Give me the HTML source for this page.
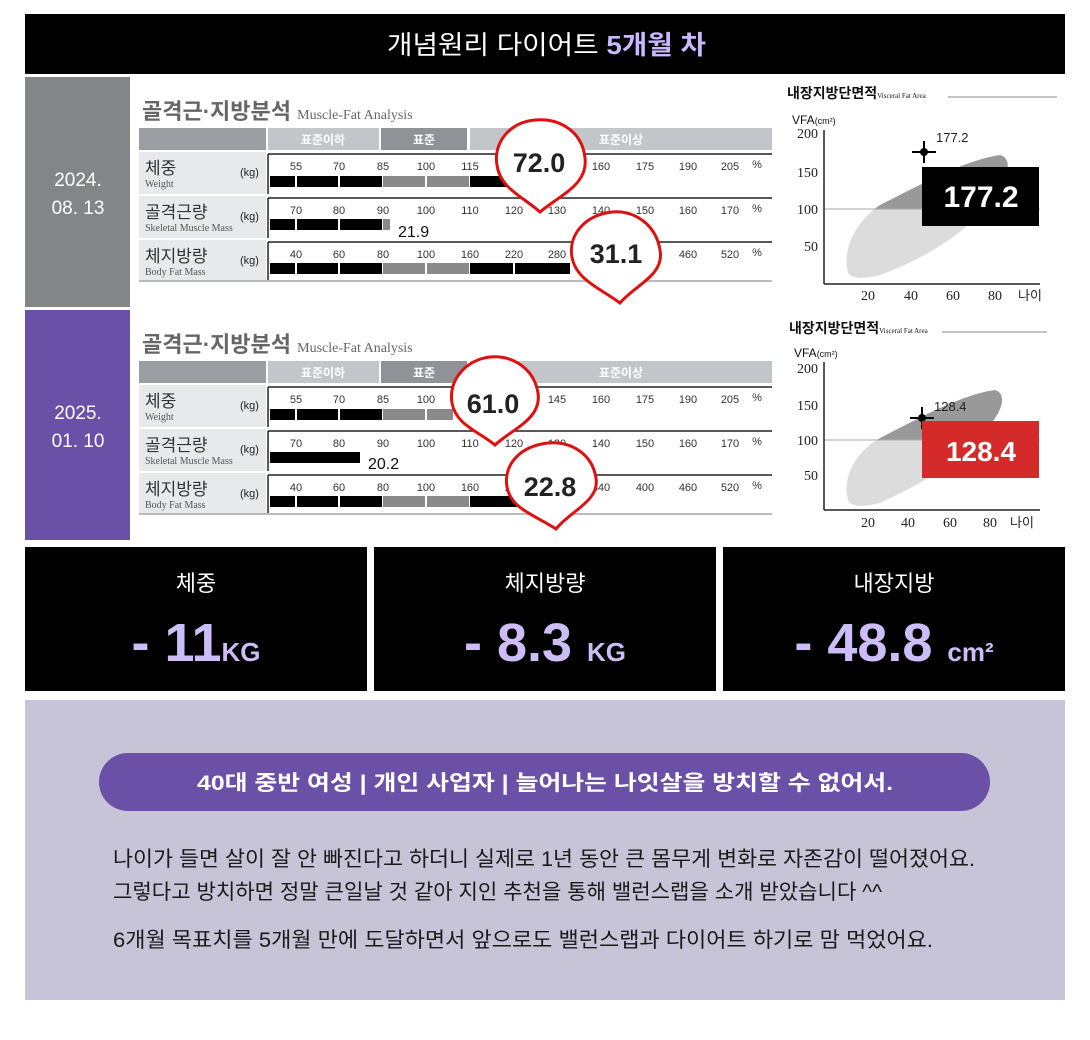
<!DOCTYPE html>
<html><head><meta charset="utf-8"><style>
html,body{margin:0;padding:0;background:#fff}
svg{display:block;font-family:"Liberation Sans","Noto Sans CJK KR",sans-serif}
.s{font-family:"Liberation Serif","Noto Serif CJK SC",serif}
.t{font-size:11px;fill:#333;text-anchor:middle}
</style></head><body>
<svg width="1090" height="1040" viewBox="0 0 1090 1040" xmlns="http://www.w3.org/2000/svg">
<defs>
<clipPath id="up1"><rect x="820" y="100" width="240" height="109"/></clipPath>
<clipPath id="up2"><rect x="820" y="340" width="240" height="100"/></clipPath>
</defs>
<!-- header -->
<rect x="25" y="14" width="1040" height="60" fill="#000"/>
<text x="387" y="54" font-size="26" fill="#fff" textLength="319" lengthAdjust="spacingAndGlyphs">개념원리 다이어트 <tspan fill="#c9b8ff" font-weight="bold">5개월 차</tspan></text>
<!-- date blocks -->
<rect x="25" y="77" width="105" height="230" fill="#848589"/>
<text x="78" y="186" text-anchor="middle" font-size="19" fill="#fff">2024.</text>
<text x="78" y="214" text-anchor="middle" font-size="19" fill="#fff">08. 13</text>
<rect x="25" y="310" width="105" height="230" fill="#6a50a7"/>
<text x="78" y="419" text-anchor="middle" font-size="19" fill="#fff">2025.</text>
<text x="78" y="447" text-anchor="middle" font-size="19" fill="#fff">01. 10</text>

<!-- PANEL 1 -->
<g>
<text x="142" y="119" font-size="22" fill="#666" font-weight="bold">골격근·지방분석 <tspan class="s" font-size="14" font-weight="normal">Muscle-Fat Analysis</tspan></text>
<rect x="139" y="128" width="127" height="22" fill="#9b9ea3"/>
<rect x="268" y="128" width="111" height="22" fill="#c2c6ca"/>
<rect x="381" y="128" width="86" height="22" fill="#8f9398"/>
<rect x="470" y="128" width="302" height="22" fill="#c2c6ca"/>
<text x="323" y="144" font-size="12" fill="#fff" text-anchor="middle" font-weight="bold">표준이하</text>
<text x="424" y="144" font-size="12" fill="#fff" text-anchor="middle" font-weight="bold">표준</text>
<text x="621" y="144" font-size="12" fill="#fff" text-anchor="middle" font-weight="bold">표준이상</text>
<rect x="139" y="152" width="127" height="42" fill="#e8e9ea"/>
<rect x="139" y="196" width="127" height="42" fill="#e8e9ea"/>
<rect x="139" y="240" width="127" height="40" fill="#e8e9ea"/>
<line x1="139" y1="281" x2="772" y2="281" stroke="#bbb" stroke-width="2"/>
<g stroke="#222" stroke-width="1.5">
<line x1="268" y1="154" x2="772" y2="154"/><line x1="268" y1="154" x2="268" y2="194"/>
<line x1="268" y1="198" x2="772" y2="198"/><line x1="268" y1="198" x2="268" y2="238"/>
<line x1="268" y1="242" x2="772" y2="242"/><line x1="268" y1="242" x2="268" y2="280"/>
</g>
<text x="145" y="174" font-size="17" fill="#333">체중</text><text x="145" y="187" class="s" font-size="10" fill="#555">Weight</text><text x="240" y="176" font-size="11" fill="#222">(kg)</text>
<text x="145" y="218" font-size="17" fill="#333">골격근량</text><text x="145" y="231" class="s" font-size="10" fill="#555">Skeletal Muscle Mass</text><text x="240" y="220" font-size="11" fill="#222">(kg)</text>
<text x="145" y="262" font-size="17" fill="#333">체지방량</text><text x="145" y="275" class="s" font-size="10" fill="#555">Body Fat Mass</text><text x="240" y="264" font-size="11" fill="#222">(kg)</text>
<g class="t">
<text x="296" y="170">55</text><text x="339" y="170">70</text><text x="383" y="170">85</text><text x="426" y="170">100</text><text x="470" y="170">115</text><text x="514" y="170">130</text><text x="557" y="170">145</text><text x="601" y="170">160</text><text x="645" y="170">175</text><text x="688" y="170">190</text><text x="730" y="170">205</text><text x="757" y="168">%</text>
<text x="296" y="214">70</text><text x="339" y="214">80</text><text x="383" y="214">90</text><text x="426" y="214">100</text><text x="470" y="214">110</text><text x="514" y="214">120</text><text x="557" y="214">130</text><text x="601" y="214">140</text><text x="645" y="214">150</text><text x="688" y="214">160</text><text x="730" y="214">170</text><text x="757" y="212">%</text>
<text x="296" y="258">40</text><text x="339" y="258">60</text><text x="383" y="258">80</text><text x="426" y="258">100</text><text x="470" y="258">160</text><text x="514" y="258">220</text><text x="557" y="258">280</text><text x="601" y="258">340</text><text x="645" y="258">400</text><text x="688" y="258">460</text><text x="730" y="258">520</text><text x="757" y="256">%</text>
</g>
<rect x="270" y="176" width="112" height="11" fill="#000"/><rect x="383" y="176" width="86" height="11" fill="#8a8a8a"/><rect x="470" y="176" width="70" height="11" fill="#000"/>
<rect x="270" y="219" width="112" height="11" fill="#000"/><rect x="383" y="219" width="7" height="11" fill="#8a8a8a"/>
<text x="398" y="237" font-size="16" fill="#111">21.9</text>
<rect x="270" y="263" width="112" height="11" fill="#000"/><rect x="383" y="263" width="86" height="11" fill="#8a8a8a"/><rect x="470" y="263" width="100" height="11" fill="#000"/>
<g stroke="#fff" stroke-width="2"><line x1="296" y1="175" x2="296" y2="188"/><line x1="339" y1="175" x2="339" y2="188"/><line x1="426" y1="175" x2="426" y2="188"/><line x1="296" y1="218" x2="296" y2="231"/><line x1="339" y1="218" x2="339" y2="231"/><line x1="296" y1="262" x2="296" y2="275"/><line x1="339" y1="262" x2="339" y2="275"/><line x1="426" y1="262" x2="426" y2="275"/><line x1="514" y1="262" x2="514" y2="275"/></g>
<path d="M540,212 C560,195 588,185 585,158 C582,130 558,118 535,120 C508,122 493,145 497,165 C500,188 522,196 540,212 Z" fill="#fff" stroke="#e01010" stroke-width="3"/>
<text x="539" y="172" text-anchor="middle" font-size="27" font-weight="bold" fill="#222">72.0</text>
<path d="M620,303 C635,285 665,275 660,250 C656,225 635,210 612,212 C585,215 568,235 572,257 C576,280 600,288 620,303 Z" fill="#fff" stroke="#e01010" stroke-width="3"/>
<text x="616" y="263" text-anchor="middle" font-size="27" font-weight="bold" fill="#222">31.1</text>
</g>

<!-- PANEL 2 -->
<g transform="translate(0,233)">
<text x="142" y="119" font-size="22" fill="#666" font-weight="bold">골격근·지방분석 <tspan class="s" font-size="14" font-weight="normal">Muscle-Fat Analysis</tspan></text>
<rect x="139" y="128" width="127" height="22" fill="#9b9ea3"/>
<rect x="268" y="128" width="111" height="22" fill="#c2c6ca"/>
<rect x="381" y="128" width="86" height="22" fill="#8f9398"/>
<rect x="470" y="128" width="302" height="22" fill="#c2c6ca"/>
<text x="323" y="144" font-size="12" fill="#fff" text-anchor="middle" font-weight="bold">표준이하</text>
<text x="424" y="144" font-size="12" fill="#fff" text-anchor="middle" font-weight="bold">표준</text>
<text x="621" y="144" font-size="12" fill="#fff" text-anchor="middle" font-weight="bold">표준이상</text>
<rect x="139" y="152" width="127" height="42" fill="#e8e9ea"/>
<rect x="139" y="196" width="127" height="42" fill="#e8e9ea"/>
<rect x="139" y="240" width="127" height="40" fill="#e8e9ea"/>
<line x1="139" y1="281" x2="772" y2="281" stroke="#bbb" stroke-width="2"/>
<g stroke="#222" stroke-width="1.5">
<line x1="268" y1="154" x2="772" y2="154"/><line x1="268" y1="154" x2="268" y2="194"/>
<line x1="268" y1="198" x2="772" y2="198"/><line x1="268" y1="198" x2="268" y2="238"/>
<line x1="268" y1="242" x2="772" y2="242"/><line x1="268" y1="242" x2="268" y2="280"/>
</g>
<text x="145" y="174" font-size="17" fill="#333">체중</text><text x="145" y="187" class="s" font-size="10" fill="#555">Weight</text><text x="240" y="176" font-size="11" fill="#222">(kg)</text>
<text x="145" y="218" font-size="17" fill="#333">골격근량</text><text x="145" y="231" class="s" font-size="10" fill="#555">Skeletal Muscle Mass</text><text x="240" y="220" font-size="11" fill="#222">(kg)</text>
<text x="145" y="262" font-size="17" fill="#333">체지방량</text><text x="145" y="275" class="s" font-size="10" fill="#555">Body Fat Mass</text><text x="240" y="264" font-size="11" fill="#222">(kg)</text>
<g class="t">
<text x="296" y="170">55</text><text x="339" y="170">70</text><text x="383" y="170">85</text><text x="426" y="170">100</text><text x="470" y="170">115</text><text x="514" y="170">130</text><text x="557" y="170">145</text><text x="601" y="170">160</text><text x="645" y="170">175</text><text x="688" y="170">190</text><text x="730" y="170">205</text><text x="757" y="168">%</text>
<text x="296" y="214">70</text><text x="339" y="214">80</text><text x="383" y="214">90</text><text x="426" y="214">100</text><text x="470" y="214">110</text><text x="514" y="214">120</text><text x="557" y="214">130</text><text x="601" y="214">140</text><text x="645" y="214">150</text><text x="688" y="214">160</text><text x="730" y="214">170</text><text x="757" y="212">%</text>
<text x="296" y="258">40</text><text x="339" y="258">60</text><text x="383" y="258">80</text><text x="426" y="258">100</text><text x="470" y="258">160</text><text x="514" y="258">220</text><text x="557" y="258">280</text><text x="601" y="258">340</text><text x="645" y="258">400</text><text x="688" y="258">460</text><text x="730" y="258">520</text><text x="757" y="256">%</text>
</g>
<rect x="270" y="176" width="112" height="11" fill="#000"/><rect x="383" y="176" width="70" height="11" fill="#8a8a8a"/>
<rect x="270" y="219" width="90" height="11" fill="#000"/>
<text x="368" y="236" font-size="16" fill="#111">20.2</text>
<rect x="270" y="263" width="112" height="11" fill="#000"/><rect x="383" y="263" width="86" height="11" fill="#8a8a8a"/><rect x="470" y="263" width="50" height="11" fill="#000"/>
<g stroke="#fff" stroke-width="2"><line x1="296" y1="175" x2="296" y2="188"/><line x1="339" y1="175" x2="339" y2="188"/><line x1="426" y1="175" x2="426" y2="188"/><line x1="296" y1="262" x2="296" y2="275"/><line x1="339" y1="262" x2="339" y2="275"/><line x1="426" y1="262" x2="426" y2="275"/></g>
<path d="M495,212 C512,196 542,186 538,160 C534,135 512,122 490,124 C465,127 448,148 452,170 C456,192 478,198 495,212 Z" fill="#fff" stroke="#e01010" stroke-width="3"/>
<text x="493" y="180" text-anchor="middle" font-size="27" font-weight="bold" fill="#222">61.0</text>
<path d="M556,296 C570,278 600,268 596,245 C592,220 570,208 548,210 C520,213 503,232 507,254 C511,276 535,282 556,296 Z" fill="#fff" stroke="#e01010" stroke-width="3"/>
<text x="550" y="263" text-anchor="middle" font-size="27" font-weight="bold" fill="#222">22.8</text>
</g>

<!-- VFA chart 1 -->
<text x="787" y="98" font-size="14" font-weight="bold" fill="#111">내장지방단면적<tspan class="s" font-size="7" font-weight="normal">Visceral Fat Area</tspan></text>
<line x1="948" y1="97" x2="1057" y2="97" stroke="#888" stroke-width="1"/>
<text x="792" y="124" font-size="12" fill="#111">VFA<tspan font-size="9">(cm²)</tspan></text>
<path d="M848,272 C842,250 855,222 880,205 C920,185 965,160 1000,155 C1012,158 1010,175 995,195 C975,225 935,255 880,275 C860,280 850,278 848,272 Z" fill="#dcdcdc"/>
<path d="M848,272 C842,250 855,222 880,205 C920,185 965,160 1000,155 C1012,158 1010,175 995,195 C975,225 935,255 880,275 C860,280 850,278 848,272 Z" fill="#999" clip-path="url(#up1)"/>
<line x1="824" y1="209" x2="1040" y2="209" stroke="#aaa" stroke-width="1"/>
<line x1="824" y1="130" x2="824" y2="284" stroke="#222" stroke-width="1.5"/>
<line x1="824" y1="284" x2="1040" y2="284" stroke="#222" stroke-width="1.5"/>
<g class="s" font-size="14" fill="#222" text-anchor="end">
<text x="818" y="138">200</text><text x="818" y="177">150</text><text x="818" y="214">100</text><text x="818" y="251">50</text></g>
<g class="s" font-size="14" fill="#222" text-anchor="middle">
<text x="868" y="300">20</text><text x="911" y="300">40</text><text x="953" y="300">60</text><text x="995" y="300">80</text></g>
<text x="1018" y="300" font-size="13" fill="#222">나이</text>
<line x1="912" y1="152" x2="936" y2="152" stroke="#000" stroke-width="2"/><line x1="924" y1="141" x2="924" y2="163" stroke="#000" stroke-width="2"/><circle cx="924" cy="152" r="4" fill="#000"/>
<text x="936" y="142" font-size="13" fill="#222">177.2</text>
<rect x="922" y="167" width="117" height="59" fill="#000"/>
<text x="981" y="207" text-anchor="middle" font-size="30" font-weight="bold" fill="#fff">177.2</text>

<!-- VFA chart 2 -->
<text x="789" y="333" font-size="14" font-weight="bold" fill="#111">내장지방단면적<tspan class="s" font-size="7" font-weight="normal">Visceral Fat Area</tspan></text>
<line x1="942" y1="332" x2="1047" y2="332" stroke="#888" stroke-width="1"/>
<text x="794" y="357" font-size="12" fill="#111">VFA<tspan font-size="9">(cm²)</tspan></text>
<path d="M848,500 C842,478 855,452 880,438 C920,418 960,395 995,390 C1006,393 1004,408 990,425 C970,455 930,480 880,503 C860,508 850,506 848,500 Z" fill="#dcdcdc"/>
<path d="M848,500 C842,478 855,452 880,438 C920,418 960,395 995,390 C1006,393 1004,408 990,425 C970,455 930,480 880,503 C860,508 850,506 848,500 Z" fill="#999" clip-path="url(#up2)"/>
<line x1="824" y1="440" x2="1040" y2="440" stroke="#aaa" stroke-width="1"/>
<line x1="824" y1="362" x2="824" y2="510" stroke="#222" stroke-width="1.5"/>
<line x1="824" y1="510" x2="1040" y2="510" stroke="#222" stroke-width="1.5"/>
<g class="s" font-size="14" fill="#222" text-anchor="end">
<text x="818" y="373">200</text><text x="818" y="410">150</text><text x="818" y="445">100</text><text x="818" y="480">50</text></g>
<g class="s" font-size="14" fill="#222" text-anchor="middle">
<text x="868" y="527">20</text><text x="908" y="527">40</text><text x="950" y="527">60</text><text x="990" y="527">80</text></g>
<text x="1010" y="527" font-size="13" fill="#222">나이</text>
<line x1="910" y1="418" x2="934" y2="418" stroke="#000" stroke-width="2"/><line x1="922" y1="407" x2="922" y2="429" stroke="#000" stroke-width="2"/><circle cx="922" cy="418" r="4" fill="#000"/>
<text x="934" y="411" font-size="13" fill="#222">128.4</text>
<rect x="922" y="421" width="117" height="57" fill="#d42a2a"/>
<text x="981" y="461" text-anchor="middle" font-size="28" font-weight="bold" fill="#fff">128.4</text>

<!-- stats -->
<rect x="25" y="547" width="342" height="144" fill="#000"/>
<rect x="374" y="547" width="342" height="144" fill="#000"/>
<rect x="723" y="547" width="342" height="144" fill="#000"/>
<g font-size="22" fill="#fff" text-anchor="middle">
<text x="196" y="591">체중</text><text x="545" y="591">체지방량</text><text x="894" y="591">내장지방</text></g>
<g font-weight="bold" fill="#cdbdf7" text-anchor="middle">
<text x="196" y="661" font-size="54">- 11<tspan font-size="26">KG</tspan></text>
<text x="545" y="661" font-size="54">- 8.3 <tspan font-size="26">KG</tspan></text>
<text x="894" y="661" font-size="54">- 48.8 <tspan font-size="26">cm²</tspan></text>
</g>

<!-- bottom -->
<rect x="25" y="700" width="1040" height="300" fill="#c6c4d6"/>
<rect x="99" y="753" width="891" height="58" rx="29" fill="#6a50a7"/>
<text x="197" y="790" font-size="21" font-weight="bold" fill="#fff" textLength="696" lengthAdjust="spacingAndGlyphs">40대 중반 여성 | 개인 사업자 | 늘어나는 나잇살을 방치할 수 없어서.</text>
<g font-size="21" fill="#1a1a1a">
<text x="113" y="866" textLength="862" lengthAdjust="spacingAndGlyphs">나이가 들면 살이 잘 안 빠진다고 하더니 실제로 1년 동안 큰 몸무게 변화로 자존감이 떨어졌어요.</text>
<text x="113" y="899" textLength="769" lengthAdjust="spacingAndGlyphs">그렇다고 방치하면 정말 큰일날 것 같아 지인 추천을 통해 밸런스랩을 소개 받았습니다 ^^</text>
<text x="113" y="947" textLength="820" lengthAdjust="spacingAndGlyphs">6개월 목표치를 5개월 만에 도달하면서 앞으로도 밸런스랩과 다이어트 하기로 맘 먹었어요.</text>
</g>
</svg>
</body></html>
